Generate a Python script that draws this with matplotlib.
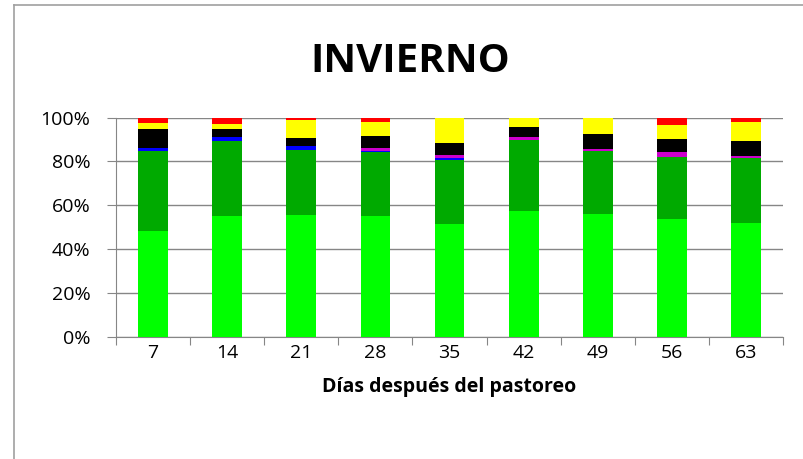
import numpy as np
import matplotlib
matplotlib.use("Agg")
from matplotlib import pyplot as plt
from matplotlib.lines import Line2D

# days after grazing
dias = ["7", "14", "21", "28", "35", "42", "49", "56", "63"]

# stacked shares (%) bottom to top
verde_claro = [48.4, 55.3, 55.6, 55.3, 51.6, 57.5, 55.9, 53.8, 51.9]
verde = [36.3, 33.8, 29.6, 29.1, 29.2, 32.2, 28.8, 28.0, 29.6]
azul = [1.3, 2.0, 1.8, 0.3, 0.6, 0.2, 0.2, 0.3, 0.2]
magenta = [0.0, 0.0, 0.0, 1.3, 1.5, 1.4, 0.7, 2.3, 0.6]
negro = [8.8, 3.5, 3.8, 5.7, 5.5, 4.2, 7.0, 5.9, 7.1]
amarillo = [2.7, 2.4, 8.2, 6.3, 11.2, 4.1, 7.0, 6.3, 8.7]
rojo = [2.5, 3.0, 1.0, 1.7, 0.4, 0.4, 0.4, 3.4, 1.9]

series = [verde_claro, verde, azul, magenta, negro, amarillo, rojo]
colores = ["#00FF00", "#00AA00", "#0000FF", "#CC00CC", "#000000", "#FFFF00", "#FF0000"]

plt.rcParams['font.family'] = ['Open Sans', 'DejaVu Sans']

fig = plt.figure(figsize=(8.04, 4.59), dpi=100)
ax = fig.add_axes([0.1443, 0.2658, 0.8297, 0.4782])

x = np.arange(len(dias))
base = np.zeros(len(dias))
for vals, c in zip(series, colores):
    ax.bar(x, vals, bottom=base, width=0.40, color=c, edgecolor="none", zorder=3)
    base += np.array(vals)

ax.set_xlim(-0.5, len(dias) - 0.5)
ax.set_ylim(0, 100)
ax.set_yticks(np.arange(0, 101, 20))
ax.set_yticklabels([f"{v}%" for v in range(0, 101, 20)], fontsize=14)
ax.yaxis.grid(True, color="#868686", linewidth=1.0, zorder=0)

# category labels centred, tick marks between categories
ax.set_xticks(np.arange(-0.5, len(dias), 1.0))
ax.set_xticklabels([])
ax.set_xticks(x, minor=True)
ax.set_xticklabels(dias, minor=True, fontsize=14)
ax.tick_params(axis="x", which="minor", length=0, pad=5)
ax.tick_params(axis="x", which="major", length=6, color="#868686")
ax.tick_params(axis="y", length=6.5, color="#868686", pad=12)

for s in ["top", "right"]:
    ax.spines[s].set_visible(False)
ax.spines["left"].set_color("#868686")
ax.spines["bottom"].set_color("#868686")

ax.set_xlabel("Días después del pastoreo", fontsize=14, fontweight="bold", labelpad=11)
fig.text(0.51, 1 - 72 / 459, "INVIERNO", ha="center", va="baseline", fontsize=29, fontweight="bold")

# chart area border (top and left edges visible)
fig.add_artist(Line2D([14 / 804, 1.0], [1 - 5 / 459, 1 - 5 / 459], transform=fig.transFigure,
                      color="#A0A0A0", linewidth=1.2))
fig.add_artist(Line2D([14 / 804, 14 / 804], [0.0, 1 - 5 / 459], transform=fig.transFigure,
                      color="#A0A0A0", linewidth=1.2))

fig.savefig("out.png", dpi=100)
